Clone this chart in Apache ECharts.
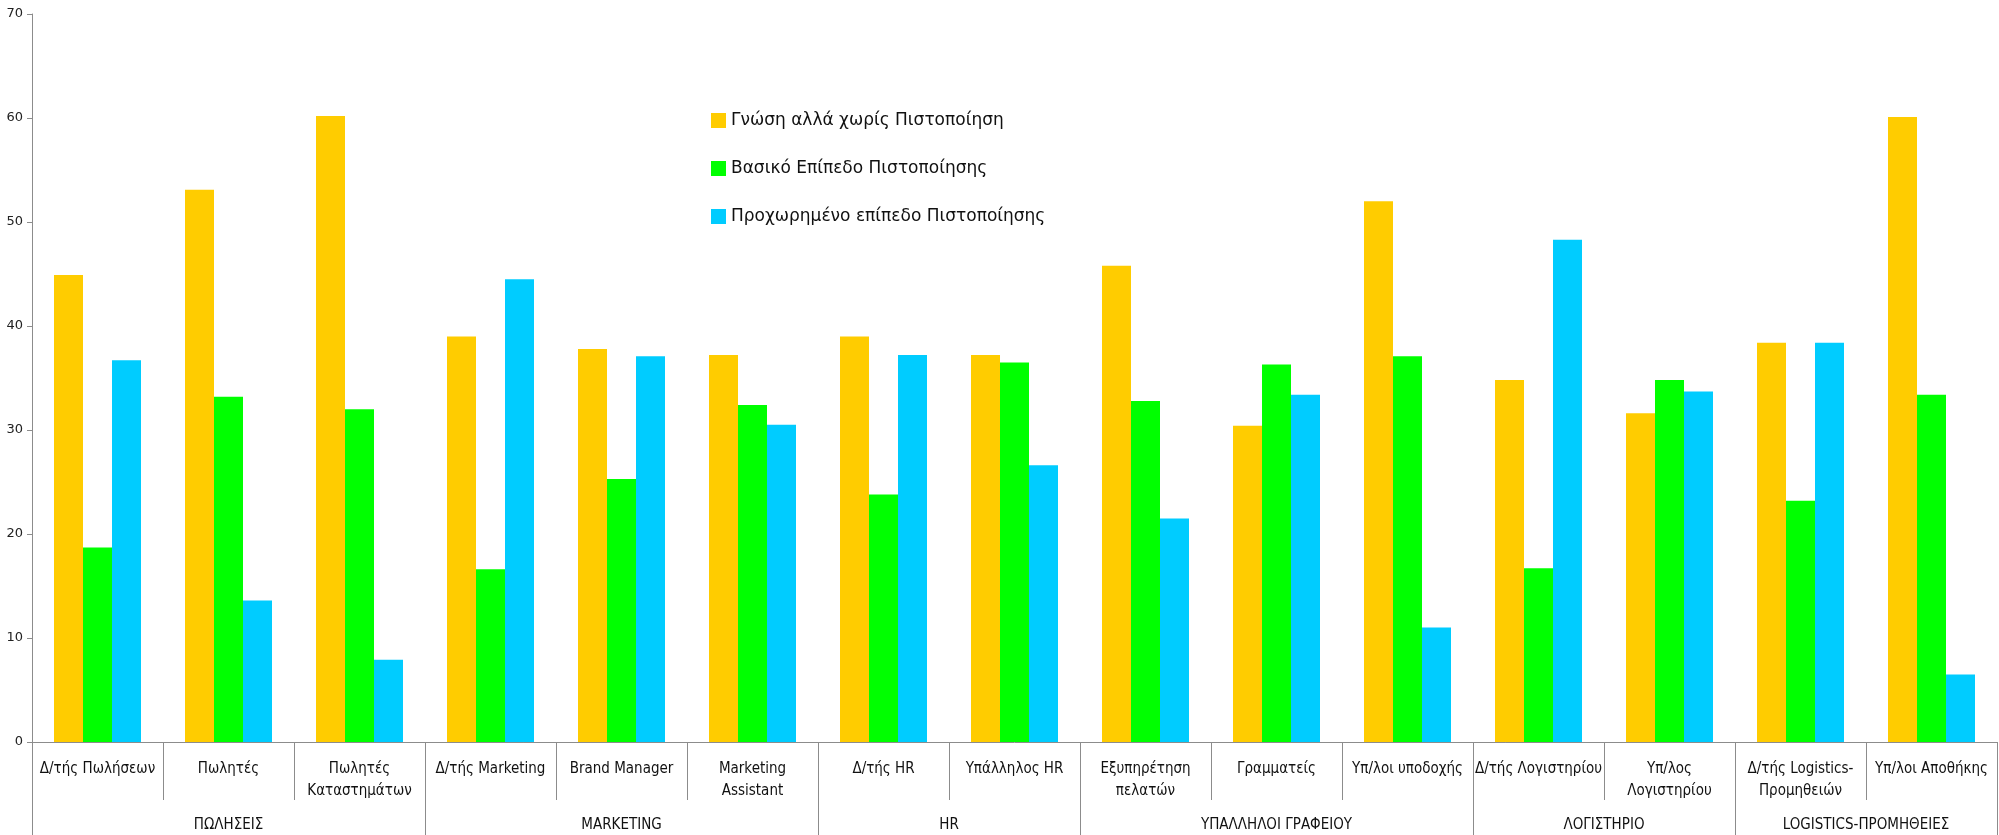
<!DOCTYPE html>
<html>
<head>
<meta charset="utf-8">
<script src="https://cdn.jsdelivr.net/npm/echarts@6/dist/echarts.min.js"></script>
<style>html,body{margin:0;padding:0;background:#fff;}#c{width:1999px;height:835px;}</style>
</head>
<body>
<div id="c"></div>
<script>
var categories = ["Δ/τής Πωλήσεων","Πωλητές","Πωλητές\nΚαταστημάτων","Δ/τής Marketing","Brand Manager","Marketing\nAssistant","Δ/τής HR","Υπάλληλος HR","Εξυπηρέτηση\nπελατών","Γραμματείς","Υπ/λοι υποδοχής","Δ/τής Λογιστηρίου","Υπ/λος\nΛογιστηρίου","Δ/τής Logistics-\nΠρομηθειών","Υπ/λοι Αποθήκης"];
var groupNames = ["ΠΩΛΗΣΕΙΣ","MARKETING","HR","ΥΠΑΛΛΗΛΟΙ ΓΡΑΦΕΙΟΥ","ΛΟΓΙΣΤΗΡΙΟ","LOGISTICS-ΠΡΟΜΗΘΕΙΕΣ"];
var groupSizes = [3,3,2,3,2,2];
var seriesNames = ["Γνώση αλλά χωρίς Πιστοποίηση","Βασικό Επίπεδο Πιστοποίησης","Προχωρημένο επίπεδο Πιστοποίησης"];
var knowledge = [44.9,53.1,60.2,39.0,37.8,37.2,39.0,37.2,45.8,30.4,52.0,34.8,31.6,38.4,60.1];
var basic = [18.7,33.2,32.0,16.6,25.3,32.4,23.8,36.5,32.8,36.3,37.1,16.7,34.8,23.2,33.4];
var advanced = [36.7,13.6,7.9,44.5,37.1,30.5,37.2,26.6,21.5,33.4,11.0,48.3,33.7,38.4,6.5];
var yTicks = [0,10,20,30,40,50,60,70];

var colors = ["#FFCC00","#00FF00","#00CCFF"];
var narrow = "'Liberation Sans Narrow','DejaVu Sans Condensed',sans-serif";

// group boundaries and centers in category units
var bounds = [0], centers = [], acc = 0;
groupSizes.forEach(function(s){ centers.push(acc + s/2); acc += s; bounds.push(acc); });

var chart = echarts.init(document.getElementById('c'), null, {renderer:'canvas'});
chart.setOption({
  animation:false,
  backgroundColor:'#fff',
  color: colors,
  legend:{
    orient:'vertical', left:706, top:107,
    itemWidth:15, itemHeight:15, itemGap:31,
    icon:'rect',
    textStyle:{fontFamily:"'DejaVu Sans',sans-serif", fontSize:17, color:'#111'},
    data: seriesNames
  },
  grid:{left:32, right:2, top:14, bottom:93, containLabel:false},
  xAxis:[{
    type:'category', data:categories, position:'bottom',
    axisLine:{show:true, lineStyle:{color:'#8c8c8c', width:1}},
    axisTick:{show:true, alignWithLabel:false, length:58, lineStyle:{color:'#8c8c8c'}},
    axisLabel:{interval:0, margin:16, fontFamily:narrow, fontSize:15, lineHeight:22, color:'#111'}
  },{
    type:'value', min:0, max:categories.length, position:'bottom',
    axisLine:{show:false}, splitLine:{show:false},
    axisTick:{show:true, length:93, customValues:bounds, lineStyle:{color:'#8c8c8c'}},
    axisLabel:{show:true, margin:76, fontFamily:narrow, fontSize:15, color:'#111',
      customValues:centers,
      formatter:function(v){ var i = centers.indexOf(v); return i>=0 ? groupNames[i] : ''; }}
  }],
  yAxis:{
    type:'value', min:yTicks[0], max:yTicks[yTicks.length-1], interval:10,
    axisLine:{show:true, lineStyle:{color:'#8c8c8c'}},
    axisTick:{show:true, length:5, lineStyle:{color:'#8c8c8c'}},
    splitLine:{show:false},
    axisLabel:{margin:9, fontFamily:"'DejaVu Sans',sans-serif", fontSize:13, color:'#222'}
  },
  series:[
    {name:seriesNames[0], type:'bar', data:knowledge, barWidth:29, barGap:'0%', xAxisIndex:0},
    {name:seriesNames[1], type:'bar', data:basic, barWidth:29, barGap:'0%', xAxisIndex:0},
    {name:seriesNames[2], type:'bar', data:advanced, barWidth:29, barGap:'0%', xAxisIndex:0}
  ]
});
</script>
</body>
</html>
